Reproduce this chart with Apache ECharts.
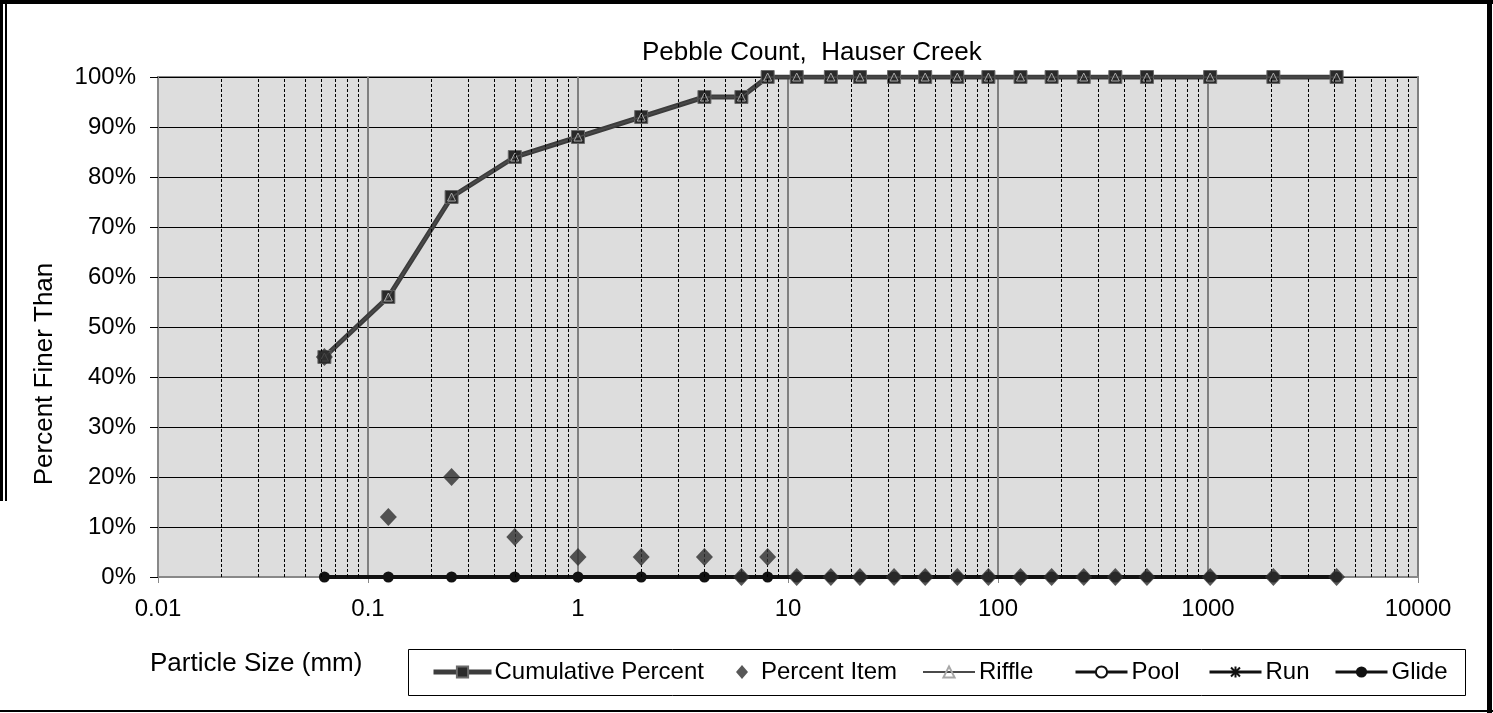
<!DOCTYPE html>
<html>
<head>
<meta charset="utf-8">
<title>Pebble Count, Hauser Creek</title>
<script src="https://cdn.jsdelivr.net/npm/echarts@6/dist/echarts.min.js"></script>
<style>
	html, body { margin: 0; padding: 0; background: #fff; }
	#chart { width: 1493px; height: 713px; }
</style>
</head>
<body>
<div id="chart"></div>
<script>
// particle sizes (mm)
var sizes = [0.062, 0.125, 0.25, 0.5, 1, 2, 4, 6, 8, 11, 16, 22, 32, 45, 64, 90, 128, 180, 256, 362, 512, 1024, 2048, 4096];
var cumulativePercent = [44, 56, 76, 84, 88, 92, 96, 96, 100, 100, 100, 100, 100, 100, 100, 100, 100, 100, 100, 100, 100, 100, 100, 100];
var percentItem = [44, 12, 20, 8, 4, 4, 4, 0, 4, 0, 0, 0, 0, 0, 0, 0, 0, 0, 0, 0, 0, 0, 0, 0];
var riffle = [44, 56, 76, 84, 88, 92, 96, 96, 100, 100, 100, 100, 100, 100, 100, 100, 100, 100, 100, 100, 100, 100, 100, 100];
var pool = [0, 0, 0, 0, 0, 0, 0, 0, 0, 0, 0, 0, 0, 0, 0, 0, 0, 0, 0, 0, 0, 0, 0, 0];
var run = [0, 0, 0, 0, 0, 0, 0, 0, 0, 0, 0, 0, 0, 0, 0, 0, 0, 0, 0, 0, 0, 0, 0, 0];
var glide = [0, 0, 0, 0, 0, 0, 0, 0, 0, 0, 0, 0, 0, 0, 0, 0, 0, 0, 0, 0, 0, 0, 0, 0];

// axis ticks
var decades = [0.01, 0.1, 1, 10, 100, 1000];
var minorSteps = [2, 3, 4, 5, 6, 7, 8, 9];
var yTicks = [0, 10, 20, 30, 40, 50, 60, 70, 80, 90, 100];

var FONT = "'Liberation Sans', Arial, sans-serif";

function pairs(values) {
	var out = [];
	for (var i = 0; i < sizes.length; i++) {
		out.push([sizes[i], values[i]]);
	}
	return out;
}

function minorGridLines() {
	var lines = [];
	for (var d = 0; d < decades.length; d++) {
		for (var m = 0; m < minorSteps.length; m++) {
			lines.push({ xAxis: Number((decades[d] * minorSteps[m]).toPrecision(6)) });
		}
	}
	return lines;
}

// one legend block per entry so each sits where the original has it
function legendItem(name, left, width, textPad, lineWidth) {
	return {
		data: [name],
		left: left, top: 660,
		itemWidth: width, itemHeight: 14, padding: 0,
		lineStyle: { width: lineWidth },
		textStyle: { fontFamily: FONT, fontSize: 24, color: '#000', padding: [0, 0, 0, textPad] }
	};
}

var runSymbol = 'path://M0,-5L0,5M-5,0L5,0M-4,-4L4,4M-4,4L4,-4';

var chart = echarts.init(document.getElementById('chart'), null, { renderer: 'canvas' });

var option = {
	animation: false,
	backgroundColor: '#ffffff',
	textStyle: { fontFamily: FONT, color: '#000' },
	title: {
		text: 'Pebble Count,  Hauser Creek',
		left: 642,
		top: 40,
		padding: 0,
		textStyle: { fontFamily: FONT, fontSize: 26, fontWeight: 'normal', color: '#000' }
	},
	grid: {
		left: 158,
		right: 75,
		top: 77,
		bottom: 136,
		show: true,
		backgroundColor: '#dddddd',
		borderColor: '#888888',
		borderWidth: 2
	},
	xAxis: {
		type: 'log',
		logBase: 10,
		min: 0.01,
		max: 10000,
		axisLine: { show: true, onZero: false, lineStyle: { color: '#888888', width: 2 } },
		axisTick: { show: true, length: 6, lineStyle: { color: '#888888', width: 1 } },
		minorTick: { show: false },
		splitLine: { show: true, lineStyle: { color: '#808080', width: 2 } },
		axisLabel: {
			margin: 20,
			fontFamily: FONT,
			fontSize: 24,
			color: '#000',
			formatter: function (v) { return String(Number(v.toPrecision(6))); }
		}
	},
	yAxis: {
		type: 'value',
		min: yTicks[0],
		max: yTicks[yTicks.length - 1],
		interval: 10,
		axisLine: { show: true, lineStyle: { color: '#888888', width: 2 } },
		axisTick: { show: true, length: 8, lineStyle: { color: '#000', width: 1 } },
		splitLine: { show: true, lineStyle: { color: '#000', width: 1 } },
		axisLabel: { margin: 22, fontFamily: FONT, fontSize: 24, color: '#000', formatter: '{value}%' }
	},
	legend: [
		legendItem('Cumulative Percent', 431, 58, -2, 5),
		legendItem('Percent Item', 736, 12, 8, 1),
		legendItem('Riffle', 922, 52, -1, 2),
		legendItem('Pool', 1074, 52, -1, 3),
		legendItem('Run', 1208, 52, -1, 3),
		legendItem('Glide', 1334, 52, -1, 3)
	],
	graphic: [
		{ type: 'rect', silent: true, shape: { x: 0, y: 0, width: 1493, height: 4 }, style: { fill: '#000' } },
		{ type: 'rect', silent: true, shape: { x: 0, y: 0, width: 3, height: 501 }, style: { fill: '#000' } },
		{ type: 'rect', silent: true, shape: { x: 5, y: 0, width: 2, height: 501 }, style: { fill: '#000' } },
		{ type: 'rect', silent: true, shape: { x: 1487, y: 0, width: 5, height: 713 }, style: { fill: '#000' } },
		{ type: 'rect', silent: true, shape: { x: 0, y: 710, width: 1493, height: 2 }, style: { fill: '#000' } },
		{ type: 'rect', silent: true, shape: { x: 408.5, y: 649.5, width: 1057, height: 46 }, style: { fill: 'none', stroke: '#000', lineWidth: 1 } },
		{
			type: 'text', silent: true, x: 45, y: 374, rotation: Math.PI / 2,
			style: { text: 'Percent Finer Than', fontFamily: FONT, fontSize: 26, fill: '#000', align: 'center', verticalAlign: 'middle' }
		},
		{
			type: 'text', silent: true, x: 150, y: 664,
			style: { text: 'Particle Size (mm)', fontFamily: FONT, fontSize: 26, fill: '#000', align: 'left', verticalAlign: 'middle' }
		}
	],
	series: [
		{
			name: 'minor grid',
			type: 'line',
			data: [],
			z: 1,
			silent: true,
			markLine: {
				silent: true,
				symbol: 'none',
				label: { show: false },
				lineStyle: { color: '#000', width: 1, type: [3, 2] },
				data: minorGridLines()
			}
		},
		{
			name: 'Cumulative Percent',
			type: 'line',
			data: pairs(cumulativePercent),
			z: 3,
			symbol: 'rect',
			symbolSize: 13,
			lineStyle: { color: '#3c3c3c', width: 5 },
			itemStyle: { color: '#2a2a2a', borderColor: '#6a6a6a', borderWidth: 1 }
		},
		{
			name: 'Riffle',
			type: 'line',
			data: pairs(riffle),
			z: 4,
			symbol: 'triangle',
			symbolSize: 8,
			lineStyle: { color: '#4a4a4a', width: 1.5 },
			itemStyle: { color: 'rgba(0,0,0,0)', borderColor: '#a8a8a8', borderWidth: 1 }
		},
		{
			name: 'Pool',
			type: 'line',
			data: pairs(pool),
			z: 3,
			symbol: 'emptyCircle',
			symbolSize: 7,
			lineStyle: { color: '#111', width: 2.5 },
			itemStyle: { color: '#111', borderWidth: 1.5 }
		},
		{
			name: 'Run',
			type: 'line',
			data: pairs(run),
			z: 3,
			symbol: runSymbol,
			symbolSize: 8,
			lineStyle: { color: '#111', width: 2.5 },
			itemStyle: { color: '#111', borderColor: '#111', borderWidth: 1.5 }
		},
		{
			name: 'Glide',
			type: 'line',
			data: pairs(glide),
			z: 4,
			symbol: 'circle',
			symbolSize: 11,
			lineStyle: { color: '#111', width: 4 },
			itemStyle: { color: '#111' }
		},
		{
			name: 'Percent Item',
			type: 'scatter',
			data: pairs(percentItem),
			z: 5,
			symbol: 'diamond',
			symbolSize: [17, 18],
			itemStyle: { color: '#2e2e2e' }
		}
	]
};

chart.setOption(option);
</script>
</body>
</html>
